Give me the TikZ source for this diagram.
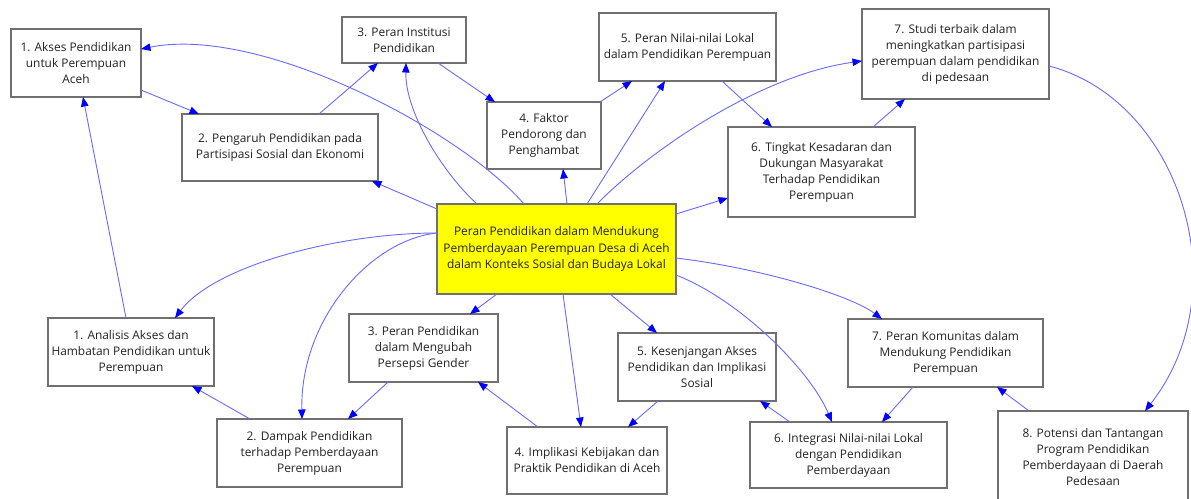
\documentclass[tikz,border=0pt]{standalone}
\usepackage{fontspec}
\setmainfont{Open Sans}
\usetikzlibrary{arrows.meta}
\definecolor{edgeblue}{RGB}{105,105,255}
\definecolor{tipblue}{RGB}{0,0,255}
\definecolor{boxgray}{RGB}{112,112,112}
\definecolor{txt}{RGB}{35,35,35}
\definecolor{hub}{RGB}{255,255,0}
\begin{document}
\begin{tikzpicture}[x=1pt,y=-1pt,
  box/.style={draw=boxgray, line width=1.2pt, fill=white, align=center, inner sep=0pt, outer sep=0pt,
    font=\fontsize{11.9}{16}\selectfont, text=txt},
  conn/.style={draw=edgeblue, line width=0.9pt, -{Triangle[length=9.5pt,width=7.5pt,color=tipblue]}}]
\fill[white] (0,0) rectangle (1191,498);
\useasboundingbox (0,0) rectangle (1191,498);
% top row
\node[box, minimum width=130pt, minimum height=68pt] (A1) at (76,63) {1. Akses Pendidikan\\untuk Perempuan\\Aceh};
\node[box, minimum width=196pt, minimum height=67pt] (B2) at (280,147.5) {2. Pengaruh Pendidikan pada\\Partisipasi Sosial dan Ekonomi};
\node[box, minimum width=124pt, minimum height=46pt] (C3) at (404,40) {3. Peran Institusi\\Pendidikan};
\node[box, minimum width=114pt, minimum height=67pt] (D4) at (544,135.5) {4. Faktor\\Pendorong dan\\Penghambat};
\node[box, minimum width=177pt, minimum height=68pt] (E5) at (687.5,47) {5. Peran Nilai-nilai Lokal\\dalam Pendidikan Perempuan};
\node[box, minimum width=187pt, minimum height=90pt] (F6) at (821.5,172) {6. Tingkat Kesadaran dan\\Dukungan Masyarakat\\Terhadap Pendidikan\\Perempuan};
\node[box, minimum width=187pt, minimum height=90pt] (G7) at (955.5,54) {7. Studi terbaik dalam\\meningkatkan partisipasi\\perempuan dalam pendidikan\\di pedesaan};
% hub
\node[box, fill=hub, minimum width=239pt, minimum height=90pt, font=\fontsize{11.9}{16.5}\selectfont] (C) at (556.5,249) {Peran Pendidikan dalam Mendukung\\Pemberdayaan Perempuan Desa di Aceh\\dalam Konteks Sosial dan Budaya Lokal};
% bottom row
\node[box, minimum width=166pt, minimum height=68pt] (H1) at (131,352) {1. Analisis Akses dan\\Hambatan Pendidikan untuk\\Perempuan};
\node[box, minimum width=185pt, minimum height=68pt] (I2) at (309.5,453) {2. Dampak Pendidikan\\terhadap Pemberdayaan\\Perempuan};
\node[box, minimum width=149pt, minimum height=68pt] (J3) at (423.5,348) {3. Peran Pendidikan\\dalam Mengubah\\Persepsi Gender};
\node[box, minimum width=160pt, minimum height=67pt] (K4) at (587,460.5) {4. Implikasi Kebijakan dan\\Praktik Pendidikan di Aceh};
\node[box, minimum width=158pt, minimum height=68pt] (L5) at (697,367) {5. Kesenjangan Akses\\Pendidikan dan Implikasi\\Sosial};
\node[box, minimum width=197pt, minimum height=66pt] (M6) at (848.5,455) {6. Integrasi Nilai-nilai Lokal\\dengan Pendidikan\\Pemberdayaan};
\node[box, minimum width=195pt, minimum height=68pt] (N7) at (945.5,353) {7. Peran Komunitas dalam\\Mendukung Pendidikan\\Perempuan};
\node[box, minimum width=190pt, minimum height=92pt] (O8) at (1093,457) {8. Potensi dan Tantangan\\Program Pendidikan\\Pemberdayaan di Daerah\\Pedesaan};
% chain top
\draw[conn] ([shift={(130,61)}]A1.north west) -- ([shift={(17,0)}]B2.north west);
\draw[conn] ([shift={(137,0)}]B2.north west) -- ([shift={(36,46)}]C3.north west);
\draw[conn] ([shift={(96,46)}]C3.north west) -- ([shift={(8,0)}]D4.north west);
\draw[conn] ([shift={(113,0)}]D4.north west) -- ([shift={(33,68)}]E5.north west);
\draw[conn] ([shift={(123,68)}]E5.north west) -- ([shift={(44,0)}]F6.north west);
\draw[conn] ([shift={(145,0)}]F6.north west) -- ([shift={(43,90)}]G7.north west);
% hub to top
\draw[conn] ([shift={(87,0)}]C.north west) .. controls (460,130) and (260,25) .. ([shift={(130,20)}]A1.north west);
\draw[conn] ([shift={(0,5)}]C.north west) -- ([shift={(190,67)}]B2.north west);
\draw[conn] ([shift={(40,0)}]C.north west) .. controls (440,170) and (405,110) .. ([shift={(64,46)}]C3.north west);
\draw[conn] ([shift={(130,0)}]C.north west) -- ([shift={(76,67)}]D4.north west);
\draw[conn] ([shift={(150,0)}]C.north west) -- ([shift={(66,68)}]E5.north west);
\draw[conn] ([shift={(160,0)}]C.north west) .. controls (650,150) and (760,75) .. ([shift={(0,52)}]G7.north west);
\draw[conn] ([shift={(239,10)}]C.north west) -- ([shift={(0,71)}]F6.north west);
% hub to bottom
\draw[conn] ([shift={(0,29)}]C.north west) .. controls (340,233) and (215,265) .. ([shift={(127,0)}]H1.north west);
\draw[conn] ([shift={(0,29)}]C.north west) .. controls (370,240) and (300,320) .. ([shift={(85,0)}]I2.north west);
\draw[conn] ([shift={(60,90)}]C.north west) -- ([shift={(121,0)}]J3.north west);
\draw[conn] ([shift={(126,90)}]C.north west) -- ([shift={(74,0)}]K4.north west);
\draw[conn] ([shift={(173,90)}]C.north west) -- ([shift={(39,0)}]L5.north west);
\draw[conn] ([shift={(239,54)}]C.north west) .. controls (760,268) and (850,295) .. ([shift={(34,0)}]N7.north west);
\draw[conn] ([shift={(239,71)}]C.north west) .. controls (740,300) and (810,370) .. ([shift={(82,0)}]M6.north west);
% chain bottom
\draw[conn] ([shift={(78,0)}]H1.north west) -- ([shift={(72,68)}]A1.north west);
\draw[conn] ([shift={(33,0)}]I2.north west) -- ([shift={(144,68)}]H1.north west);
\draw[conn] ([shift={(39,68)}]J3.north west) -- ([shift={(131,0)}]I2.north west);
\draw[conn] ([shift={(31,0)}]K4.north west) -- ([shift={(129,68)}]J3.north west);
\draw[conn] ([shift={(40,68)}]L5.north west) -- ([shift={(121,0)}]K4.north west);
\draw[conn] ([shift={(40,0)}]M6.north west) -- ([shift={(142,68)}]L5.north west);
\draw[conn] ([shift={(65,68)}]N7.north west) -- ([shift={(132,0)}]M6.north west);
\draw[conn] ([shift={(31,0)}]O8.north west) -- ([shift={(149,68)}]N7.north west);
\draw[conn] ([shift={(187,57)}]G7.north west) .. controls (1180,100) and (1240,290) .. ([shift={(147,0)}]O8.north west);
\end{tikzpicture}
\end{document}
